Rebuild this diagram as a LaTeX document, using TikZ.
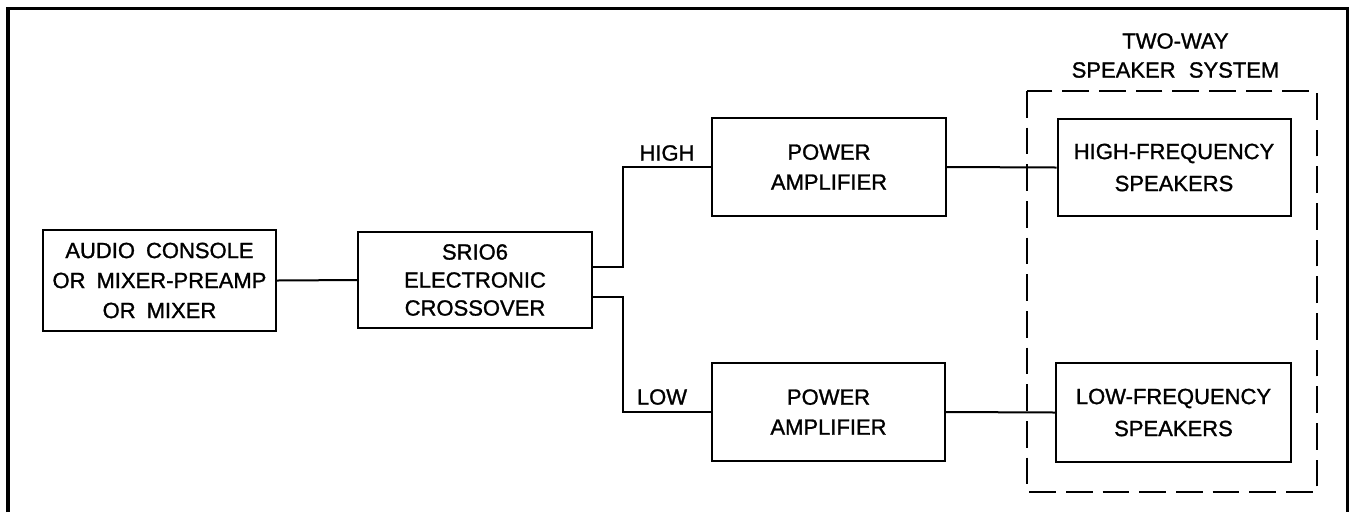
\documentclass[tikz,border=0pt]{standalone}
\usepackage{fontspec}
\setmainfont{Liberation Sans}[FakeBold=1.5]
\newfontfamily\letterfont{Liberation Sans}[FakeBold=1.2]
\usetikzlibrary{calc}
\newcommand\dgfont[2]{\letterfont\fontsize{16.5}{#1}\selectfont\spaceskip=#2em\relax}
\begin{document}
\begin{tikzpicture}[x=0.75pt,y=-0.75pt,
  every node/.style={font=\dgfont{22.5}{0.5}},
  blk/.style={draw,line width=1.5pt,rectangle,align=center,inner sep=0pt},
  wire/.style={line width=1.5pt},
  lbl/.style={inner sep=0pt,align=center}]
\useasboundingbox (0,0) rectangle (1350,512);
\draw[line width=2.4pt] (8,512) -- (8,8.5) -- (1347.5,8.5) -- (1347.5,512);
\node[blk,minimum width=174.75pt,minimum height=75.75pt] (audio) at (159.5,280.5) {AUDIO CONSOLE\\OR MIXER-PREAMP\\OR MIXER};
\node[blk,minimum width=175.5pt,minimum height=72pt,font=\dgfont{21}{0.5}] (cross) at (475,280) {SRIO6\\ELECTRONIC\\CROSSOVER};
\node[blk,minimum width=175.5pt,minimum height=73.5pt] (amphi) at (829,167) {POWER\\AMPLIFIER};
\node[blk,minimum width=174.75pt,minimum height=73.5pt] (amplo) at (828.5,412) {POWER\\AMPLIFIER};
\node[blk,minimum width=174.75pt,minimum height=72.75pt,font=\dgfont{24}{0.5}] (spkhi) at (1174,167.5) {HIGH-FREQUENCY\\SPEAKERS};
\node[blk,minimum width=176.25pt,minimum height=74.25pt,font=\dgfont{24}{0.5}] (spklo) at (1173.5,412.5) {LOW-FREQUENCY\\SPEAKERS};
\draw[line width=1.5pt,dash pattern=on 20pt off 7.5pt] (1027,91) rectangle (1317,492);
\node[lbl,font=\dgfont{21.75}{0.6}] (sys) at (1175.5,55.5) {TWO-WAY\\SPEAKER SYSTEM};
\node[lbl] (high) at (667,153) {HIGH};
\node[lbl] (low) at (662,397) {LOW};
\draw[wire] (audio.east) -- (cross.west);
\draw[wire] ($(cross.east)+(0,-13)$) -- ++(30,0) |- (amphi.west);
\draw[wire] ($(cross.east)+(0,17)$) -- ++(30,0) |- (amplo.west);
\draw[wire] (amphi.east) -- (spkhi.west);
\draw[wire] (amplo.east) -- (spklo.west);
\end{tikzpicture}
\end{document}
